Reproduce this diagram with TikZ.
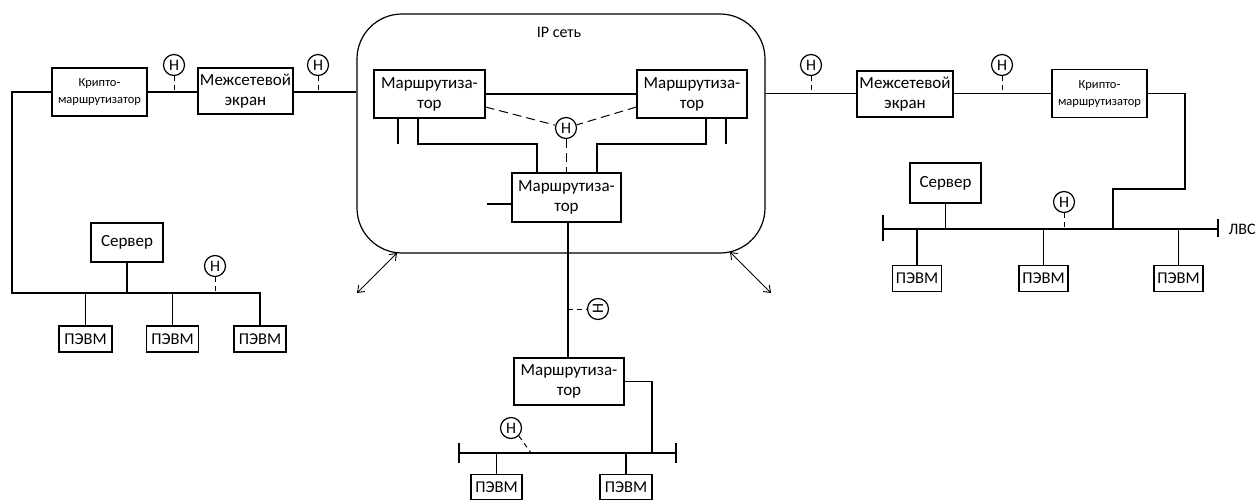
\documentclass[tikz,border=0pt]{standalone}
\usepackage{fontspec}
\setmainfont{Carlito}
\usetikzlibrary{arrows.meta}
\begin{document}
\begin{tikzpicture}[x=1pt,y=-1pt,line width=1.2pt,
  box/.style={draw,rectangle,inner sep=0pt,align=center,font=\fontsize{17}{20}\selectfont},
  kbox/.style={box,font=\fontsize{12.5}{17}\selectfont},
  pcbox/.style={box,minimum height=26pt,font=\fontsize{16.5}{18}\selectfont},
  hcirc/.style={draw,circle,inner sep=0pt,minimum size=21pt,font=\fontsize{16}{18}\selectfont},
  hstub/.style={line width=1pt,dash pattern=on 5pt off 4pt},
  dline/.style={line width=1pt,dash pattern=on 9pt off 5pt},
  dbl/.style={line width=0.9pt,{Straight Barb[length=6pt,width=9pt]}-{Straight Barb[length=6pt,width=9pt]}}]
\useasboundingbox (0,0) rectangle (1258,500);
% IP network cloud
\node[draw,rounded corners=45pt,minimum width=408pt,minimum height=239pt,inner sep=0pt] (cloud) at (561,133.5) {};
\node[font=\fontsize{16}{18}\selectfont] (iplabel) at (559,32) {IP сеть};
% left chain
\node[kbox,minimum width=95pt,minimum height=48pt] (kL) at (99.5,92) {Крипто-\\маршрутизатор};
\node[box,minimum width=95pt,minimum height=46pt] (fL) at (245.5,91) {Межсетевой\\экран};
\node[hcirc] (hL1) at (174,65) {Н};
\node[hcirc] (hL2) at (318,65) {Н};
\draw (kL.east) -- (fL.west |- kL.east);
\draw (fL.east |- kL.east) -- (kL.east -| cloud.west);
\draw[hstub] (hL1.south) -- (hL1.south |- kL.east);
\draw[hstub] (hL2.south) -- (hL2.south |- kL.east);
% left LAN
\node[box,minimum width=72pt,minimum height=39pt] (sL) at (127,242.5) {Сервер};
\node[pcbox,minimum width=53pt] (pL1) at (85.5,339) {ПЭВМ};
\node[pcbox,minimum width=52pt] (pL2) at (172.5,339) {ПЭВМ};
\node[pcbox,minimum width=52pt] (pL3) at (260,339) {ПЭВМ};
\node[hcirc] (hL3) at (215,266) {Н};
\coordinate (busL) at (12,293);
\draw (kL.west) -| (busL) -- (pL3.north |- busL) -- (pL3.north);
\draw (pL1.north) -- (pL1.north |- busL);
\draw (pL2.north) -- (pL2.north |- busL);
\draw (sL.south) -- (sL.south |- busL);
\draw[hstub] (hL3.south) -- (hL3.south |- busL);
% routers inside cloud
\node[box,minimum width=111pt,minimum height=48pt] (rTL) at (429.5,94) {Маршрутиза-\\тор};
\node[box,minimum width=110pt,minimum height=48pt] (rTR) at (692,94) {Маршрутиза-\\тор};
\node[box,minimum width=109pt,minimum height=49pt] (rC) at (566.5,197.5) {Маршрутиза-\\тор};
\node[hcirc] (hC) at (566,128) {Н};
\draw (rTL.east) -- (rTR.west);
\draw[dline] ([yshift=-13pt]rTL.east) -- (hC);
\draw[dline] ([yshift=-13pt]rTR.west) -- (hC);
\draw[dline] (hC.south) -- (hC.south |- rC.north);
\coordinate (sTL) at (398,144);
\coordinate (sTR) at (726,144);
\draw (sTL |- rTL.south) -- (sTL);
\draw (sTR |- rTR.south) -- (sTR);
\draw (418,0 |- rTL.south) -- (418,144) -| (537,0 |- rC.north);
\draw (706,0 |- rTR.south) -- (706,144) -| (597,0 |- rC.north);
\coordinate (sC) at (487,204);
\draw (sC) -- (sC -| rC.west);
% arrows
\coordinate (aL1) at (397,253);
\coordinate (aL2) at (357,293);
\coordinate (aR1) at (730,252);
\coordinate (aR2) at (771,293);
\draw[dbl] (aL1) -- (aL2);
\draw[dbl] (aR1) -- (aR2);
% right chain
\node[box,minimum width=96pt,minimum height=46pt] (fR) at (905,94) {Межсетевой\\экран};
\node[kbox,minimum width=95pt,minimum height=48pt] (kR) at (1099.5,93.5) {Крипто-\\маршрутизатор};
\node[hcirc] (hR1) at (811,65) {Н};
\node[hcirc] (hR2) at (1002,65) {Н};
\draw (fR.east |- kR.west) -- (kR.west);
\draw (cloud.east |- kR.west) -- (fR.west |- kR.west);
\draw[hstub] (hR1.south) -- (hR1.south |- kR.west);
\draw[hstub] (hR2.south) -- (hR2.south |- kR.west);
% right LAN
\coordinate (busR1) at (883,229);
\coordinate (busR2) at (1218,229);
\node[box,minimum width=71pt,minimum height=40pt] (sR) at (945.5,183) {Сервер};
\node[pcbox,minimum width=49pt] (pR1) at (917,278.5) {ПЭВМ};
\node[pcbox,minimum width=49pt] (pR2) at (1043.5,278.5) {ПЭВМ};
\node[pcbox,minimum width=49pt] (pR3) at (1178.5,278.5) {ПЭВМ};
\node[hcirc] (hR3) at (1064,202) {Н};
\node[anchor=west,font=\fontsize{16}{18}\selectfont,inner sep=0pt] (lvs) at (1228,229) {ЛВС};
\draw (busR1) -- (busR2);
\draw ([yshift=-12pt]busR1) -- ([yshift=14pt]busR1);
\draw ([yshift=-8pt]busR2) -- ([yshift=10pt]busR2);
\draw (kR.east) -- (1185,93.5) -- (1185,189) -- (1113,189) -- (1113,229);
\draw (sR.south) -- (sR.south |- busR1);
\draw (pR1.north) -- (pR1.north |- busR1);
\draw (pR2.north) -- (pR2.north |- busR1);
\draw (pR3.north) -- (pR3.north |- busR1);
\draw[hstub] (hR3.south) -- (hR3.south |- busR1);
% bottom branch
\node[box,minimum width=110pt,minimum height=47pt] (rB) at (569,381.5) {Маршрутиза-\\тор};
\node[hcirc,rotate=90] (hB) at (598,309) {Н};
\draw (568,0 |- rC.south) -- (568,0 |- rB.north);
\draw[hstub] (568,309) -- (hB.north);
\coordinate (busB1) at (459,453);
\coordinate (busB2) at (676,453);
\draw (busB1) -- (busB2);
\draw ([yshift=-10pt]busB1) -- ([yshift=10pt]busB1);
\draw ([yshift=-10pt]busB2) -- ([yshift=10pt]busB2);
\draw (rB.east) -- (652,381.5) -- (652,453);
\node[pcbox,minimum width=51pt,minimum height=25pt] (pB1) at (496.5,487) {ПЭВМ};
\node[pcbox,minimum width=52pt,minimum height=25pt] (pB2) at (626,487) {ПЭВМ};
\draw (pB1.north) -- (pB1.north |- busB1);
\draw (pB2.north) -- (pB2.north |- busB1);
\node[hcirc] (hB2) at (511,428) {Н};
\draw[hstub] (hB2.south east) -- (531,453);
\end{tikzpicture}
\end{document}
